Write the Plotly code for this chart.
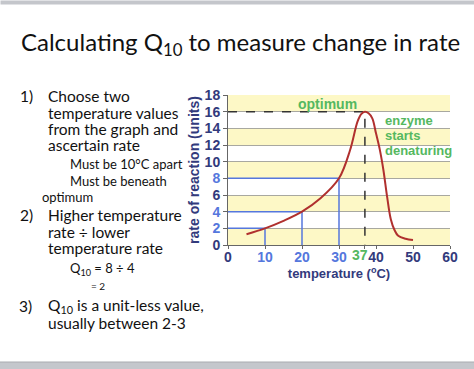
import plotly.graph_objects as go

# ---- data ----
temps = [5, 10, 15, 20, 25, 30, 33, 35, 36, 37, 38, 39, 40, 41, 42, 43, 44, 45, 46, 48, 50]
rates = [1.3, 2.0, 2.9, 4.0, 5.6, 8.0, 11.4, 14.8, 15.7, 16.0, 15.8, 15.2, 13.4, 11.5, 9.0, 5.8, 3.1, 1.8, 1.1, 0.75, 0.6]
guide_temps = [10, 20, 30]
guide_rates = [2, 4, 8]
optimum_temp = 37
optimum_rate = 16
x_ticks = [0, 10, 20, 30, 37, 40, 50, 60]
y_ticks = [0, 2, 4, 6, 8, 10, 12, 14, 16, 18]
band_starts = [0, 4, 8, 12, 16]

W, H = 474, 369
L, R, T, B = 228, 450, 95, 245

def px(x):
    return (x - L) / (R - L)

def py(y):
    return (B - y) / (B - T)

NAVY = "#323a7c"
BLUE = "#5577dd"
GREEN = "#55b860"
RED = "#b0302e"

def xlabel(v):
    c = NAVY
    if v in guide_temps:
        c = BLUE
    if v == optimum_temp:
        return ""
    return f'<b><span style="color:{c}">{v}</span></b>'

def ylabel(v):
    c = BLUE if v in guide_rates else NAVY
    return f'<b><span style="color:{c}">{v}</span></b>'

fig = go.Figure()

# blue guide lines
for t, r in zip(guide_temps, guide_rates):
    fig.add_trace(go.Scatter(x=[0, t, t], y=[r, r, 0], mode="lines",
                             line=dict(color=BLUE, width=1.5), hoverinfo="skip", showlegend=False))
# dashed optimum lines
fig.add_trace(go.Scatter(x=[0, optimum_temp, optimum_temp], y=[optimum_rate, optimum_rate, 0], mode="lines",
                         line=dict(color="#333333", width=1.5, dash="dash"), hoverinfo="skip", showlegend=False))
# curve
fig.add_trace(go.Scatter(x=temps, y=rates, mode="lines", line=dict(color=RED, width=2, shape="spline", smoothing=1.0),
                         showlegend=False))

shapes = []
for b in band_starts:
    shapes.append(dict(type="rect", xref="paper", yref="y", x0=0, x1=1, y0=b, y1=b + 2,
                       fillcolor="#fdf8c6", line=dict(width=0), layer="below"))
# slide frame (bottom)
shapes.append(dict(type="rect", xref="paper", yref="paper", x0=px(0), x1=px(W), y0=py(362), y1=py(369),
                   fillcolor="#c4c7cc", line=dict(width=0)))
shapes.append(dict(type="line", xref="paper", yref="paper", x0=px(0), x1=px(W), y0=py(362), y1=py(362),
                   line=dict(color="#a9acb0", width=1)))

ann = []
# slide frame (top strip)
ann.append(dict(xref="paper", yref="paper", x=px(0), y=py(0), xanchor="left", yanchor="top",
                text=" ", showarrow=False, width=W, height=3, bgcolor="#c4c6cb", borderpad=0,
                font=dict(size=1)))

def text(x, y, s, size, color="#111111", xanchor="left", family="Lato", bold=False):
    ann.append(dict(xref="paper", yref="paper", x=px(x), y=py(y), text=(f"<b>{s}</b>" if bold else s),
                    showarrow=False, xanchor=xanchor, yanchor="middle",
                    font=dict(family=family, size=size, color=color)))

text(19, 44, "Calculating Q<sub>10</sub> to measure change in rate", 24)

MS = 15.5
SS = 13.0
text(18, 96, "1)", MS)
text(46, 96, "Choose two", MS)
text(46, 113, "temperature values", MS)
text(46, 129, "from the graph and", MS)
text(46, 145, "ascertain rate", MS)
text(68, 164, "Must be 10°C apart", SS)
text(68, 181, "Must be beneath", SS)
text(40, 197, "optimum", SS)
text(18, 215, "2)", MS)
text(46, 215, "Higher temperature", MS)
text(46, 232, "rate ÷ lower", MS)
text(46, 248, "temperature rate", MS)
text(68, 269, "Q<sub>10</sub> = 8 ÷ 4", 13)
text(89, 286, "= 2", 10)
text(17, 306, "3)", MS)
text(46, 306, "Q<sub>10</sub> is a unit-less value,", MS)
text(46, 323, "usually between 2-3", MS)

# chart annotations
ann.append(dict(x=27, y=16.95, xref="x", yref="y", text="<b>optimum</b>", showarrow=False,
                font=dict(family="Arial", size=14, color=GREEN)))
for i, s in enumerate(["enzyme", "starts", "denaturing"]):
    ann.append(dict(x=41.9, y=15.0 - i * 1.85, xref="x", yref="y", text=f"<b>{s}</b>", showarrow=False,
                    xanchor="left", font=dict(family="Arial", size=13, color=GREEN)))
# optimum tick label (sits tight against the 40 label)
ann.append(dict(x=optimum_temp, y=py(255), xref="x", yref="paper", xshift=-5, text=f"<b>{optimum_temp}</b>",
                showarrow=False, xanchor="center", yanchor="middle",
                font=dict(family="Arial", size=14, color=GREEN)))

fig.update_layout(
    width=W, height=H, margin=dict(l=L, r=W - R, t=T, b=H - B),
    paper_bgcolor="white", plot_bgcolor="white",
    shapes=shapes, annotations=ann,
    xaxis=dict(range=[0, 60], tickvals=x_ticks, ticktext=[xlabel(v) for v in x_ticks], tickangle=0,
               showgrid=False, zeroline=False, showline=True, linecolor="#666666", linewidth=1,
               ticks="outside", ticklen=3, tickcolor="#666666", ticklabelstandoff=-4,
               tickfont=dict(family="Arial", size=14, color=NAVY),
               title=dict(text="<b>temperature (<sup>o</sup>C)</b>", font=dict(family="Arial", size=13, color=NAVY), standoff=2)),
    yaxis=dict(range=[0, 18], tickvals=y_ticks, ticktext=[ylabel(v) for v in y_ticks],
               showgrid=True, gridcolor="#a8a8a0", gridwidth=1, zeroline=False,
               showline=True, linecolor="#666666", linewidth=1,
               ticks="outside", ticklen=4, tickcolor="#666666",
               tickfont=dict(family="Arial", size=14, color=NAVY),
               title=dict(text="<b>rate of reaction (units)</b>", font=dict(family="Arial", size=14, color=NAVY), standoff=1)),
)

fig.write_html("out.html", config={"displayModeBar": False},
               post_script="document.body.style.margin='0';document.body.style.overflow='hidden';")
